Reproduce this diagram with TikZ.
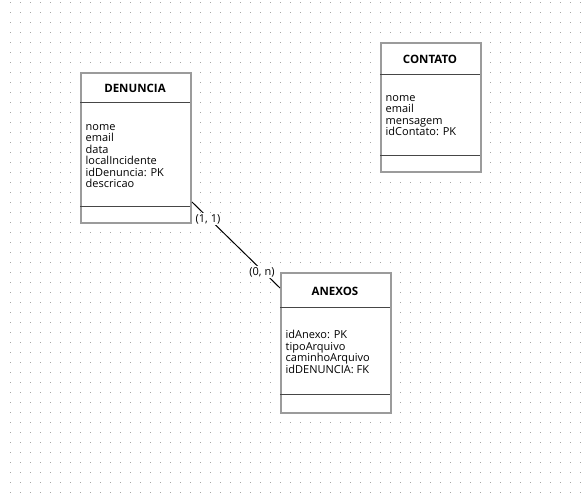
\documentclass[tikz,border=0pt]{standalone}
\usepackage{fontspec}
\setmainfont{Open Sans}
\definecolor{gridgray}{RGB}{165,165,165}
\definecolor{boxgray}{RGB}{155,155,155}
\definecolor{sepgray}{RGB}{70,70,70}
\tikzset{
  entity/.style={draw=boxgray, line width=2pt, fill=white, anchor=north west, inner sep=0pt},
  sep/.style={draw=sepgray, line width=1pt},
  title/.style={font=\fontsize{11.5}{11.5}\selectfont\bfseries, inner sep=0pt, anchor=base},
  attrs/.style={font=\fontsize{11}{11.5}\selectfont, align=left, inner sep=0pt, anchor=base west},
  card/.style={font=\fontsize{11}{11}\selectfont, fill=white, inner sep=1pt}
}
\begin{document}
\begin{tikzpicture}[x=1pt, y=-1pt]
			\useasboundingbox (0,0) rectangle (582,501);
			\foreach \gx in {10,20,...,580}
				\foreach \gy in {2,12,...,492}
					\fill[gridgray] (\gx,\gy) rectangle +(1,1);
			\node[entity, minimum width=110pt, minimum height=150pt] (denuncia) at (80,72) {};
			\node[entity, minimum width=100pt, minimum height=129pt] (contato) at (380,42) {};
			\node[entity, minimum width=110pt, minimum height=140pt] (anexos) at (280,272) {};
			\draw[sep] (80,102) -- (190,102);
			\draw[sep] (80,206) -- (190,206);
			\draw[sep] (380,74) -- (480,74);
			\draw[sep] (380,155) -- (480,155);
			\draw[sep] (280,307) -- (390,307);
			\draw[sep] (280,394) -- (390,394);
			\node[title] (denunciatitle) at (135,92) {DENUNCIA};
			\node[title] (contatotitle) at (430,63) {CONTATO};
			\node[title] (anexostitle) at (335,295) {ANEXOS};
			\node[attrs] (denunciaattrs) at (85.5,187.5) {nome\\email\\data\\localIncidente\\idDenuncia: PK\\descricao};
			\node[attrs] (contatoattrs) at (385.5,135.5) {nome\\email\\mensagem\\idContato: PK};
			\node[attrs] (anexosattrs) at (285.5,373) {idAnexo: PK\\tipoArquivo\\caminhoArquivo\\idDENUNCIA: FK};
			\coordinate (denunciaend) at ([yshift=22pt]denuncia.south east);
			\coordinate (anexosend) at ([yshift=-16pt]anexos.north west);
			\draw[line width=1pt] (denunciaend) -- (anexosend);
			\node[card] (cardone) at (208,219) {(1, 1)};
			\node[card] (cardmany) at (262,272) {(0, n)};
		\end{tikzpicture}
\end{document}
